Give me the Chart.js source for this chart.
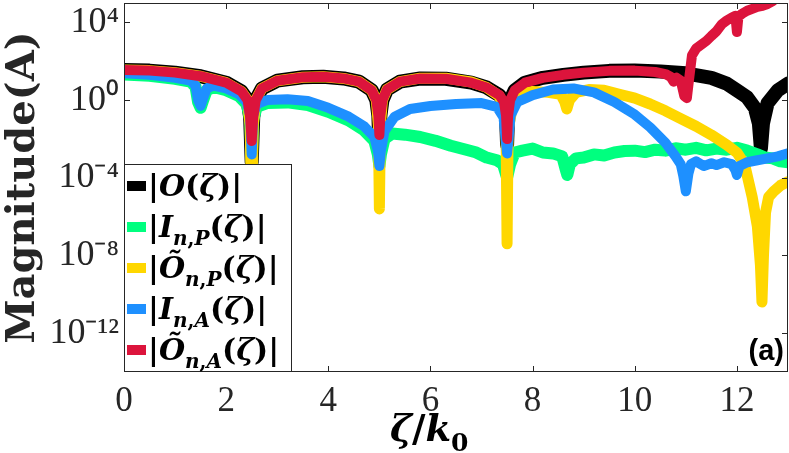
<!DOCTYPE html>
<html>
<head>
<meta charset="utf-8">
<script src="https://cdn.jsdelivr.net/npm/chart.js@4.4.0/dist/chart.umd.min.js"></script>
<style>
  html, body { margin: 0; padding: 0; background: #fff; }
</style>
</head>
<body>
<canvas id="myChart" width="789" height="453"></canvas>
<script>
// tick positions / labels
var xTicks = [0, 2, 4, 6, 8, 10, 12]
var yTicks = [1e-12, 1e-8, 1e-4, 1, 1e4]
var yTickLabels = ['10⁻¹²', '10⁻⁸', '10⁻⁴', '10⁰', '10⁴']
var legendLabels = ['|O(ζ)|', '|I_{n,P}(ζ)|', '|Õ_{n,P}(ζ)|', '|I_{n,A}(ζ)|', '|Õ_{n,A}(ζ)|']

// |O(zeta)|
var xO = [0,0.5,1,1.5,2,2.3,2.42,2.47,2.5,2.53,2.58,2.7,3,3.5,3.9,4.3,4.6,4.85,4.94,4.98,5,5.02,5.06,5.15,5.4,5.8,6.3,6.8,7.1,7.35,7.44,7.48,7.5,7.52,7.56,7.65,7.85,8.2,8.6,9,9.5,10,10.5,11,11.5,11.8,12,12.2,12.35,12.43,12.47,12.51,12.6,12.8,13]
var yO = [36,33,26,17,7.9,2.8,1.0,0.13,6.3e-4,0.13,1.0,4.0,10,15,16,13,8.9,3.2,1.0,0.16,5e-3,0.16,1.0,3.5,8.9,13,12.6,7.9,4.5,1.8,0.8,0.16,5e-3,0.16,1.0,3.2,7.9,14,20,26,32,33,30,24,14,7.1,3.2,1.4,0.4,6.3e-2,3.2e-3,6.3e-2,0.7,3.2,7.1]

// |I_n,P(zeta)|
var xIP = [0,0.5,1,1.3,1.4,1.45,1.5,1.55,1.62,1.75,2,2.25,2.4,2.47,2.5,2.53,2.6,2.8,3.2,3.6,4,4.4,4.7,4.9,4.97,5,5.03,5.1,5.25,5.5,5.8,6.1,6.4,6.7,6.9,7.1,7.3,7.42,7.5,7.56,7.65,7.8,8,8.2,8.4,8.58,8.64,8.68,8.73,8.85,9,9.2,9.4,9.6,9.8,10,10.2,10.4,10.6,10.8,11,11.2,11.4,11.6,11.8,12,12.2,12.4,12.55,12.7,12.85,13]
var yIP = [21,18,12.6,8.9,5.0,0.8,0.4,1.0,3.2,4.7,3.2,1.6,0.63,0.1,6.3e-4,0.1,0.45,0.7,0.76,0.56,0.25,8.9e-2,2.8e-2,8e-3,1.6e-3,4e-4,1.6e-3,1e-2,1.9e-2,1.66e-2,1.26e-2,8e-3,4.5e-3,2.8e-3,2e-3,1.1e-3,8e-4,5e-4,1e-4,5e-4,2e-3,2.5e-3,3.2e-3,2e-3,1.8e-3,1.26e-3,3.2e-4,1.4e-4,5e-4,1e-3,1.1e-3,1.6e-3,1.4e-3,2e-3,2.4e-3,2.5e-3,2.1e-3,2.8e-3,2.5e-3,3.3e-3,2.8e-3,3.5e-3,2.6e-3,3.2e-3,2.8e-3,3.5e-3,2.5e-3,1.6e-3,1.1e-3,1e-3,7e-4,6.3e-4]

// |O~_n,P(zeta)|
var xOP = [0,0.5,1,1.5,2,2.3,2.42,2.47,2.5,2.53,2.58,2.7,3,3.5,3.9,4.3,4.6,4.85,4.94,4.98,5,5.02,5.06,5.15,5.4,5.8,6.3,6.8,7.1,7.35,7.44,7.48,7.5,7.52,7.56,7.62,7.75,8,8.3,8.55,8.63,8.67,8.72,8.85,9.1,9.4,9.7,10,10.3,10.6,10.9,11.2,11.5,11.8,12,12.15,12.3,12.4,12.46,12.49,12.52,12.56,12.62,12.72,12.85,13]
var yOP = [36,33,26,17,7.9,2.8,1.0,0.05,1e-6,0.05,1.0,4.0,10,15,16,13,8.9,3.2,1.0,0.05,2.5e-6,0.05,1.0,3.5,8.9,13.5,13.5,8.5,4.5,1.6,0.32,3e-2,4e-8,3e-2,0.1,1.0,2.2,2.8,2.5,2.0,0.8,0.35,1.0,2.5,3.5,3.2,2.0,1.26,0.63,0.28,0.11,4.5e-2,1.6e-2,5e-3,2e-3,5e-4,1e-5,3.2e-7,3.2e-9,4e-11,1e-8,1.6e-6,1e-5,2e-5,4e-5,6.3e-5]

// |I_n,A(zeta)|
var xIA = [0,0.5,1,1.3,1.4,1.45,1.5,1.55,1.62,1.75,2,2.25,2.4,2.47,2.5,2.53,2.6,2.8,3.2,3.6,4,4.4,4.7,4.9,4.97,5,5.03,5.1,5.3,5.6,6,6.5,7,7.3,7.43,7.5,7.57,7.7,8,8.4,8.8,9.2,9.6,10,10.3,10.6,10.8,10.9,10.95,11,11.05,11.1,11.2,11.35,11.5,11.6,11.75,11.9,11.97,12,12.05,12.2,12.4,12.6,12.8,13]
var yIA = [24,20,14,10,5.6,1.0,0.5,1.26,4.0,5.6,4.0,2.0,0.8,0.16,1.6e-3,0.16,0.63,1.0,1.1,0.9,0.4,0.14,4.5e-2,1.26e-2,2.5e-3,4e-4,2.5e-3,2.5e-2,0.14,0.35,0.5,0.63,0.7,0.45,0.13,1.8e-3,0.16,0.8,1.8,3.5,4.0,2.5,0.8,0.18,4e-2,6.3e-3,1.26e-3,5e-4,1.26e-4,2e-5,1.6e-4,5e-4,7e-4,4e-4,5.6e-4,4.5e-4,6.3e-4,5e-4,2.5e-4,1.4e-4,4e-4,6.3e-4,8e-4,1e-3,1.26e-3,1.8e-3]

// |O~_n,A(zeta)|
var xOA = [0,0.5,1,1.5,2,2.3,2.42,2.47,2.5,2.53,2.58,2.7,3,3.5,3.9,4.3,4.6,4.85,4.94,4.98,5,5.02,5.06,5.15,5.4,5.8,6.3,6.8,7.1,7.35,7.44,7.48,7.5,7.52,7.56,7.65,7.85,8.2,8.6,9,9.5,10,10.4,10.6,10.7,10.76,10.82,10.9,10.97,11.02,11.06,11.12,11.2,11.3,11.4,11.5,11.6,11.7,11.8,11.9,11.97,12,12.03,12.1,12.2,12.3,12.4,12.5,12.6,12.7,12.8]
var yOA = [36,33,26,17,7.9,2.8,1.0,0.13,7.9e-3,0.13,1.0,4.0,10,15,16,13,8.9,3.2,1.0,0.16,1.6e-2,0.16,1.0,3.5,8.9,13,12.6,7.9,4.5,1.8,0.8,0.16,1e-2,0.16,1.0,3.2,7.9,14,20,26,32,33,28,22,16,8.9,14,10,1.6,1.26,10,200,450,710,1100,2000,3500,7900,1.26e4,1.8e4,2.2e4,3.2e3,2.0e4,2.8e4,4.0e4,5.0e4,6.3e4,7.1e4,8.9e4,1.26e5,2.0e5]

function pts(xs, ys) {
    return xs.map(function(x, i){ return {x: x, y: ys[i]} })
}

function line(label, xs, ys, color, width, order) {
    return {
        label: label,
        data: pts(xs, ys),
        borderColor: color,
        backgroundColor: color,
        borderWidth: width,
        pointRadius: 0,
        tension: 0,
        borderJoinStyle: 'round',
        borderCapStyle: 'round',
        clip: 0,
        order: order
    }
}

var ink = '#262626'
var mathFont = '"DejaVu Serif"'

// draws text with _{...} subscripts; brackets upright, letters italic
function drawMath(ctx, str, x, y, size, color) {
    var i = 0
    ctx.fillStyle = color
    ctx.textBaseline = 'alphabetic'
    ctx.textAlign = 'left'
    function put(ch, sz, dy) {
        var upright = '|(),/0123456789'.indexOf(ch) >= 0
        ctx.font = (upright ? '' : 'italic ') + 'bold ' + sz + 'px ' + mathFont
        ctx.fillText(ch, x, y + dy)
        x += ctx.measureText(ch).width
    }
    while (i < str.length) {
        if (str[i] == '_' && str[i + 1] == '{') {
            var end = str.indexOf('}', i)
            var sub = str.slice(i + 2, end)
            for (var k = 0; k < sub.length; k++) put(sub[k], Math.round(size * 0.68), size * 0.26)
            i = end + 1
        } else {
            put(str[i], size, 0)
            i++
        }
    }
    return x
}

var frame = {
    id: 'frame',
    afterDraw: function(chart) {
        var ctx = chart.ctx
        var a = chart.chartArea
        var xs = chart.scales.x, ys = chart.scales.y
        ctx.save()
        ctx.strokeStyle = ink
        ctx.lineWidth = 1
        ctx.beginPath()
        xs.ticks.forEach(function(t){
            var px = Math.round(xs.getPixelForValue(t.value)) + 0.5
            ctx.moveTo(px, a.bottom); ctx.lineTo(px, a.bottom - 6)
            ctx.moveTo(px, a.top); ctx.lineTo(px, a.top + 6)
        })
        ys.ticks.forEach(function(t){
            var py = Math.round(ys.getPixelForValue(t.value)) + 0.5
            ctx.moveTo(a.left, py); ctx.lineTo(a.left + 6, py)
            ctx.moveTo(a.right, py); ctx.lineTo(a.right - 6, py)
        })
        ctx.stroke()
        ctx.strokeRect(a.left + 0.5, a.top + 0.5, a.width - 1, a.height - 1)

        // legend box, lower left inside the axes
        var lx = a.left, ly = 164, lw = 168, lh = a.bottom - ly
        ctx.fillStyle = '#fff'
        ctx.fillRect(lx, ly, lw, lh)
        ctx.strokeRect(lx + 0.5, ly + 0.5, lw - 1, lh - 1)
        chart.data.datasets.forEach(function(ds, i){
            var cy = 186 + i * 41
            ctx.fillStyle = ds.borderColor
            ctx.fillRect(lx + 3, cy - 5, 19, 10)
            drawMath(ctx, ds.label, lx + 24, cy + 10, 30, '#000')
        })

        // x axis title
        drawMath(ctx, 'ζ/k_{0}', 390, 441, 37, '#000')

        // panel tag
        ctx.fillStyle = '#000'
        ctx.font = 'bold 29px "Liberation Sans"'
        ctx.textAlign = 'right'
        ctx.textBaseline = 'alphabetic'
        ctx.fillText('(a)', a.right - 4, a.bottom - 12)
        ctx.restore()
    }
}

var chart = new Chart(document.getElementById('myChart').getContext('2d'), {
    type: 'line',
    data: {
        datasets: [
            line(legendLabels[0], xO, yO, '#000000', 14, 5),
            line(legendLabels[1], xIP, yIP, '#00FF7F', 12, 4),
            line(legendLabels[2], xOP, yOP, '#FFD700', 11, 3),
            line(legendLabels[3], xIA, yIA, '#1E90FF', 10, 2),
            line(legendLabels[4], xOA, yOA, '#DC143C', 10, 1)
        ]
    },
    options: {
        responsive: false,
        animation: false,
        devicePixelRatio: 1,
        layout: { padding: { top: 3, right: 1, left: 0, bottom: 0 } },
        plugins: { legend: { display: false }, tooltip: { enabled: false } },
        scales: {
            x: {
                type: 'linear',
                min: 0,
                max: 13,
                afterBuildTicks: function(s){ s.ticks = xTicks.map(function(v){ return {value: v} }) },
                afterFit: function(s){ s.height = 81; s.paddingLeft = 0; s.paddingRight = 0 },
                grid: { drawOnChartArea: false, drawTicks: false },
                border: { display: false },
                ticks: {
                    maxRotation: 0,
                    padding: 9,
                    color: ink,
                    font: { family: '"Liberation Serif"', size: 35 },
                    callback: function(v){ return String(v) }
                }
            },
            y: {
                type: 'logarithmic',
                min: 1e-14,
                max: 1e5,
                afterBuildTicks: function(s){ s.ticks = yTicks.map(function(v){ return {value: v} }) },
                afterFit: function(s){ s.width = 124; s.paddingTop = 0; s.paddingBottom = 0 },
                grid: { drawOnChartArea: false, drawTicks: false },
                border: { display: false },
                ticks: {
                    padding: 5,
                    color: ink,
                    font: { family: '"Liberation Serif"', size: 36 },
                    callback: function(v, i){ return yTickLabels[i] }
                },
                title: {
                    display: true,
                    text: 'Magnitude(A)',
                    color: ink,
                    padding: { top: 0, bottom: 0 },
                    font: { family: '"DejaVu Serif"', size: 40, weight: 'bold' }
                }
            }
        }
    },
    plugins: [frame]
})
</script>
</body>
</html>
